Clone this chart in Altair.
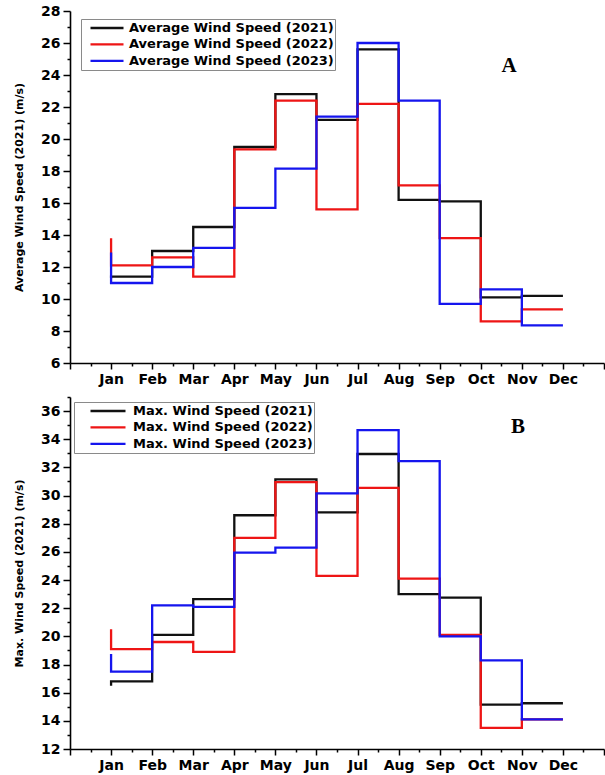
import json
import altair as alt
import pandas as pd

months = ["Jan", "Feb", "Mar", "Apr", "May", "Jun", "Jul", "Aug", "Sep", "Oct", "Nov", "Dec"]
month_num = list(range(1, 13))

avg_series = ["Average Wind Speed (2021)", "Average Wind Speed (2022)", "Average Wind Speed (2023)"]
avg_2021 = [11.3, 11.4, 13.0, 14.5, 19.5, 22.8, 21.2, 25.6, 16.2, 16.1, 10.1, 10.2]
avg_2022 = [13.8, 12.1, 12.6, 11.4, 19.35, 22.4, 15.6, 22.2, 17.1, 13.8, 8.6, 9.35]
avg_2023 = [12.9, 11.0, 12.0, 13.2, 15.7, 18.15, 21.4, 26.0, 22.4, 9.7, 10.6, 8.35]

max_series = ["Max. Wind Speed (2021)", "Max. Wind Speed (2022)", "Max. Wind Speed (2023)"]
max_2021 = [16.5, 16.8, 20.1, 22.65, 28.6, 31.15, 28.8, 32.95, 23.0, 22.75, 15.15, 15.25]
max_2022 = [20.5, 19.1, 19.6, 18.9, 27.0, 30.95, 24.3, 30.55, 24.1, 20.1, 13.5, 14.1]
max_2023 = [18.75, 17.5, 22.2, 22.1, 25.95, 26.3, 30.15, 34.65, 32.45, 20.0, 18.3, 14.1]

panel_labels = ["A", "B"]
colors = ["#111111", "#ee1515", "#1515ee"]

FONT = "DejaVu Sans"


def long_df(series, values_list):
    rows = []
    for s, vals in zip(series, values_list):
        for m, n, v in zip(months, month_num, vals):
            rows.append({"series": s, "month": m, "mnum": n, "value": v})
    return pd.DataFrame(rows)


x_ticks = [i * 0.5 for i in range(0, 27)]
month_expr = ("datum.value >= 1 && datum.value <= 12 && datum.value % 1 == 0 ? "
              + json.dumps(months) + "[datum.value - 1] : ''")


def x_axis():
    return alt.Axis(
        values=x_ticks, labelExpr=month_expr, title=None, grid=False,
        labelOverlap=False, labelFont=FONT, labelFontSize=14, labelFontWeight="bold",
        labelColor="black", labelPadding=3,
        tickSize={"condition": {"test": "datum.value % 1 == 0", "value": 6}, "value": 3},
    )


def y_axis(title, lo, hi):
    return alt.Axis(
        values=list(range(lo, hi + 1)), labelExpr="datum.value % 2 == 0 ? datum.label : ''",
        title=title, grid=False, labelOverlap=False, labelFont=FONT, labelFontSize=14,
        labelFontWeight="bold", labelColor="black", labelPadding=3,
        titleFont=FONT, titleFontSize=11, titleFontWeight="bold", titleColor="black",
        titlePadding=16,
        tickSize={"condition": {"test": "datum.value % 2 == 0", "value": 7}, "value": 3},
    )


def panel(series, values_list, ytitle, lo, hi, label, lx, ly, leg):
    df = long_df(series, values_list)
    lines = alt.Chart(df).mark_line(interpolate="step-before", strokeWidth=2.3).encode(
        x=alt.X("mnum:Q", scale=alt.Scale(domain=[0, 13], nice=False, zero=False), axis=x_axis()),
        y=alt.Y("value:Q", scale=alt.Scale(domain=[lo, hi], nice=False, zero=False),
                axis=y_axis(ytitle, lo, hi)),
        color=alt.Color("series:N", scale=alt.Scale(domain=series, range=colors), title=None,
                        legend=alt.Legend(orient="none", **leg)),
    )
    txt = alt.Chart(pd.DataFrame({"label": [label]})).mark_text(
        font="Liberation Serif", fontSize=21, fontWeight="bold", color="black"
    ).encode(x=alt.value(lx), y=alt.value(ly), text="label:N")
    return alt.layer(lines, txt).properties(width=534, height=352)


common_leg = dict(
    fillColor="white", strokeColor="#8a8a8a", padding=1, symbolType="stroke",
    symbolStrokeWidth=2.3, clipHeight=16, labelFont=FONT, labelFontSize=13,
    labelFontWeight="bold", labelColor="black", rowPadding=0.4, labelLimit=0,
)

legA = dict(common_leg, legendX=11, legendY=8, symbolSize=1089, symbolOffset=7, labelOffset=4)
legB = dict(common_leg, legendX=4, legendY=5, symbolSize=1225, symbolOffset=14, labelOffset=6)

pA = panel(avg_series, [avg_2021, avg_2022, avg_2023], "Average Wind Speed (2021) (m/s)",
           6, 28, panel_labels[0], 439, 55, legA)
pB = panel(max_series, [max_2021, max_2022, max_2023], "Max. Wind Speed (2021) (m/s)",
           12, 37, panel_labels[1], 448, 30, legB)

chart = alt.vconcat(pA, pB, spacing=4).resolve_scale(color="independent").resolve_legend(
    color="independent"
).properties(
    padding={"left": 13, "top": 4, "right": 0, "bottom": 2},
    background="white",
).configure_view(stroke=None).configure_axis(
    domainColor="black", domainWidth=1.6, tickColor="black", tickWidth=1.5,
)

chart.save("out.html", embed_options={"renderer": "svg", "actions": False})
